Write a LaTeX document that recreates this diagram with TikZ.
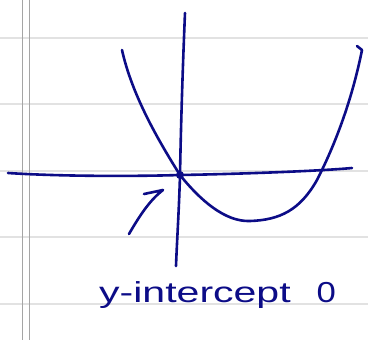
\documentclass[tikz,border=0pt]{standalone}
\usepackage{fontspec}
\setmainfont{Liberation Sans}
\usetikzlibrary{arrows.meta}
\definecolor{ink}{RGB}{12,12,135}
\definecolor{rule}{RGB}{226,226,226}
\definecolor{margin}{RGB}{165,165,165}
\tikzset{
  pen/.style={draw=ink, line width=2.6bp, line cap=round, line join=round},
  ruling/.style={draw=rule, line width=1.6bp},
  marginline/.style={draw=margin, line width=1.3bp},
  label/.style={text=ink, inner sep=0pt, anchor=base west}
}
\begin{document}
\begin{tikzpicture}[x=1bp,y=-1bp]
\useasboundingbox (0,0) rectangle (368,340);
\fill[white] (0,0) rectangle (368,340);
% ruled paper
\foreach \yy in {38,104,171,237,304} \draw[ruling] (0,\yy) -- (368,\yy);
\draw[marginline] (22.5,0) -- (22.5,340);
\draw[marginline] (29.5,0) -- (29.5,340);
% axes
\coordinate (xl) at (8,173);
\coordinate (xr) at (352,168);
\coordinate (yt) at (185,13);
\coordinate (yb) at (176,266);
\node[circle, fill=ink, inner sep=0pt, minimum size=8bp] (o) at (180,175) {};
\draw[pen] (xl) .. controls (70,177) and (150,176) .. (o.center) .. controls (240,174) and (320,171) .. (xr);
\draw[pen] (yt) .. controls (183,60) and (181,120) .. (o.center) .. controls (179,210) and (177,240) .. (yb);
% parabola
\coordinate (pl) at (122,50);
\coordinate (pr) at (362,47);
\draw[pen] (pl) .. controls (132,95) and (158,140) .. (o.center)
  .. controls (200,200) and (225,222) .. (250,221)
  .. controls (280,220) and (300,210) .. (317,180)
  .. controls (335,145) and (352,100) .. (362,50) -- (357,46);
% arrow
\coordinate (at) at (129,234);
\coordinate (ah) at (163,190);
\draw[pen] (at) .. controls (140,215) and (150,200) .. (ah) -- (144,194);
% label
\node[label] (lab) at (99,302) {\fontsize{29}{32}\selectfont\scalebox{1.42}[1]{y-intercept}\hspace{26bp}\scalebox{1.2}[1]{0}};
\end{tikzpicture}
\end{document}
